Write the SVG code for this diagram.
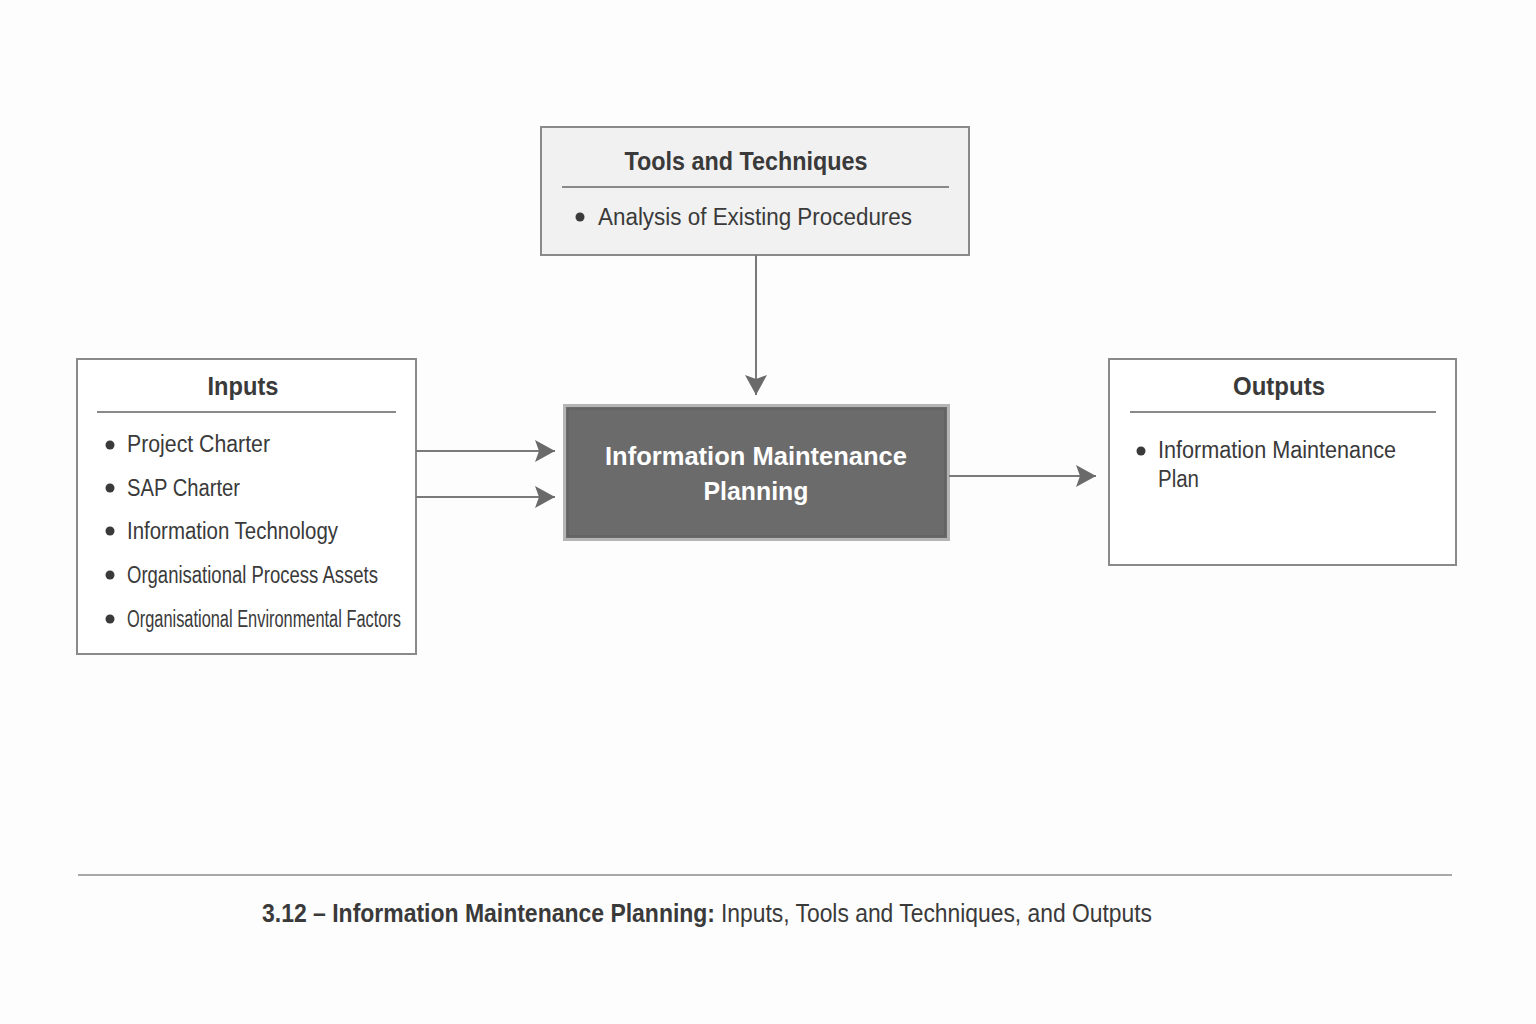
<svg xmlns="http://www.w3.org/2000/svg" width="1536" height="1024" viewBox="0 0 1536 1024">
<defs>
<style>
text{font-family:"Liberation Sans","Noto Sans",sans-serif;fill:#3a3a3a}
.box{fill:#ffffff;stroke:#8a8a8a;stroke-width:2}
.head{font-size:26px;font-weight:bold;text-anchor:middle}
.item{font-size:23px}
.rule{stroke:#8a8a8a;stroke-width:2}
.dot{fill:#3a3a3a}
.conn{stroke:#7a7a7a;stroke-width:2;fill:none}
</style>
<marker id="ah" viewBox="0 0 10 10" refX="9" refY="5" markerWidth="10" markerHeight="10" markerUnits="userSpaceOnUse" orient="auto">
<path d="M0,0 L10,5 L0,10 Z" fill="#6a6a6a"/>
</marker>
<marker id="ah2" viewBox="0 0 20 22" refX="20" refY="11" markerWidth="20" markerHeight="22" markerUnits="userSpaceOnUse" orient="auto">
<path d="M0,0 L20,11 L0,22 L4,11 Z" fill="#6a6a6a"/>
</marker>
</defs>
<rect width="1536" height="1024" fill="#fdfdfd"/>

<g id="tools">
<rect x="541" y="127" width="428" height="128" fill="#f1f1f1" stroke="#8a8a8a" stroke-width="2"/>
<text class="head" x="746" y="170" textLength="243" lengthAdjust="spacingAndGlyphs">Tools and Techniques</text>
<line class="rule" x1="562" y1="187" x2="949" y2="187"/>
<circle class="dot" cx="580" cy="217" r="4.5"/>
<text class="item" x="598" y="225" textLength="314" lengthAdjust="spacingAndGlyphs">Analysis of Existing Procedures</text>
</g>

<g id="inputs">
<rect class="box" x="77" y="359" width="339" height="295"/>
<text class="head" x="243" y="395" textLength="71" lengthAdjust="spacingAndGlyphs">Inputs</text>
<line class="rule" x1="97" y1="412" x2="396" y2="412"/>
<circle class="dot" cx="110" cy="445" r="4.5"/>
<text class="item" x="127" y="452" textLength="143" lengthAdjust="spacingAndGlyphs">Project Charter</text>
<circle class="dot" cx="110" cy="488" r="4.5"/>
<text class="item" x="127" y="496" textLength="113" lengthAdjust="spacingAndGlyphs">SAP Charter</text>
<circle class="dot" cx="110" cy="531" r="4.5"/>
<text class="item" x="127" y="539" textLength="211" lengthAdjust="spacingAndGlyphs">Information Technology</text>
<circle class="dot" cx="110" cy="575" r="4.5"/>
<text class="item" x="127" y="583" textLength="251" lengthAdjust="spacingAndGlyphs">Organisational Process Assets</text>
<circle class="dot" cx="110" cy="619" r="4.5"/>
<text class="item" x="127" y="627" font-size="21" textLength="274" lengthAdjust="spacingAndGlyphs">Organisational Environmental Factors</text>
</g>

<g id="process">
<rect x="564.5" y="405.5" width="384" height="134" fill="#6b6b6b" stroke="#b5b5b5" stroke-width="3"/>
<rect x="568" y="409" width="377" height="127" fill="none" stroke="#5e5e5e" stroke-width="1"/>
<text class="head" x="756" y="465" style="fill:#ffffff" textLength="302" lengthAdjust="spacingAndGlyphs">Information Maintenance</text>
<text class="head" x="756" y="500" style="fill:#ffffff" textLength="105" lengthAdjust="spacingAndGlyphs">Planning</text>
</g>

<g id="outputs">
<rect class="box" x="1109" y="359" width="347" height="206"/>
<text class="head" x="1279" y="395" textLength="92" lengthAdjust="spacingAndGlyphs">Outputs</text>
<line class="rule" x1="1130" y1="412" x2="1436" y2="412"/>
<circle class="dot" cx="1141" cy="451" r="4.5"/>
<text class="item" x="1158" y="458" textLength="238" lengthAdjust="spacingAndGlyphs">Information Maintenance</text>
<text class="item" x="1158" y="487" textLength="41" lengthAdjust="spacingAndGlyphs">Plan</text>
</g>

<g id="connectors">
<line class="conn" x1="756" y1="255" x2="756" y2="395" marker-end="url(#ah2)"/>
<line class="conn" x1="416" y1="451" x2="555" y2="451" marker-end="url(#ah2)"/>
<line class="conn" x1="416" y1="497" x2="555" y2="497" marker-end="url(#ah2)"/>
<line class="conn" x1="949" y1="476" x2="1096" y2="476" marker-end="url(#ah2)"/>
</g>

<g id="caption">
<line x1="78" y1="875" x2="1452" y2="875" stroke="#a8a8a8" stroke-width="2"/>
<text x="262" y="922" font-size="25" font-weight="bold" textLength="453" lengthAdjust="spacingAndGlyphs">3.12 – Information Maintenance Planning:</text>
<text x="721" y="922" font-size="25" textLength="431" lengthAdjust="spacingAndGlyphs">Inputs, Tools and Techniques, and Outputs</text>
</g>
</svg>
